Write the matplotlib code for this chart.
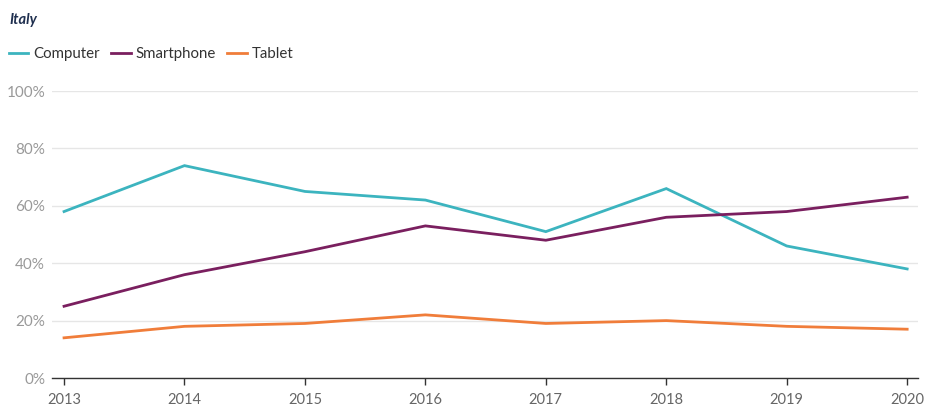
import matplotlib.pyplot as plt

years = [2013, 2014, 2015, 2016, 2017, 2018, 2019, 2020]
computer = [58, 74, 65, 62, 51, 66, 46, 38]
smartphone = [25, 36, 44, 53, 48, 56, 58, 63]
tablet = [14, 18, 19, 22, 19, 20, 18, 17]

COLORS = {
    "Computer": "#3cb4bf",
    "Smartphone": "#7a1f5f",
    "Tablet": "#f07d3a",
}

plt.rcParams["font.family"] = ["Lato", "DejaVu Sans"]

fig = plt.figure(figsize=(9.25, 4.09), dpi=100)
ax = fig.add_axes([52 / 925, 1 - 378 / 409, 866 / 925, 287 / 409])

for name, values in (("Computer", computer), ("Smartphone", smartphone), ("Tablet", tablet)):
    ax.plot(years, values, color=COLORS[name], linewidth=2, label=name,
            solid_joinstyle="miter")

ax.set_xlim(2012.9, 2020.09)
ax.set_ylim(0, 100)
ax.set_xticks(years)
ax.set_xticklabels([str(y) for y in years])
ax.set_yticks([0, 20, 40, 60, 80, 100])
ax.set_yticklabels([f"{v}%" for v in range(0, 101, 20)])
ax.grid(axis="y", color="#e6e6e6", linewidth=1)
ax.set_axisbelow(True)

for spine in ("top", "right", "left"):
    ax.spines[spine].set_visible(False)
ax.spines["bottom"].set_color("#333333")
ax.spines["bottom"].set_linewidth(1)

ax.tick_params(axis="y", length=0, pad=5, labelsize=11, labelcolor="#999999")
ax.tick_params(axis="x", length=5, width=1, color="#333333", pad=6,
               labelsize=10.5, labelcolor="#666666")

fig.text(9 / 925, 1 - 20 / 409, "Italy", fontsize=10.5, style="italic",
         weight="bold", color="#1f2f4f", va="center", ha="left")
fig.legend(loc="center left", bbox_to_anchor=(-5 / 925, 1 - 54 / 409), ncol=3,
           frameon=False, fontsize=10.8, handlelength=1.3, handletextpad=0.35,
           columnspacing=0.75, labelcolor="#333333")

fig.savefig("out.png", dpi=100)
